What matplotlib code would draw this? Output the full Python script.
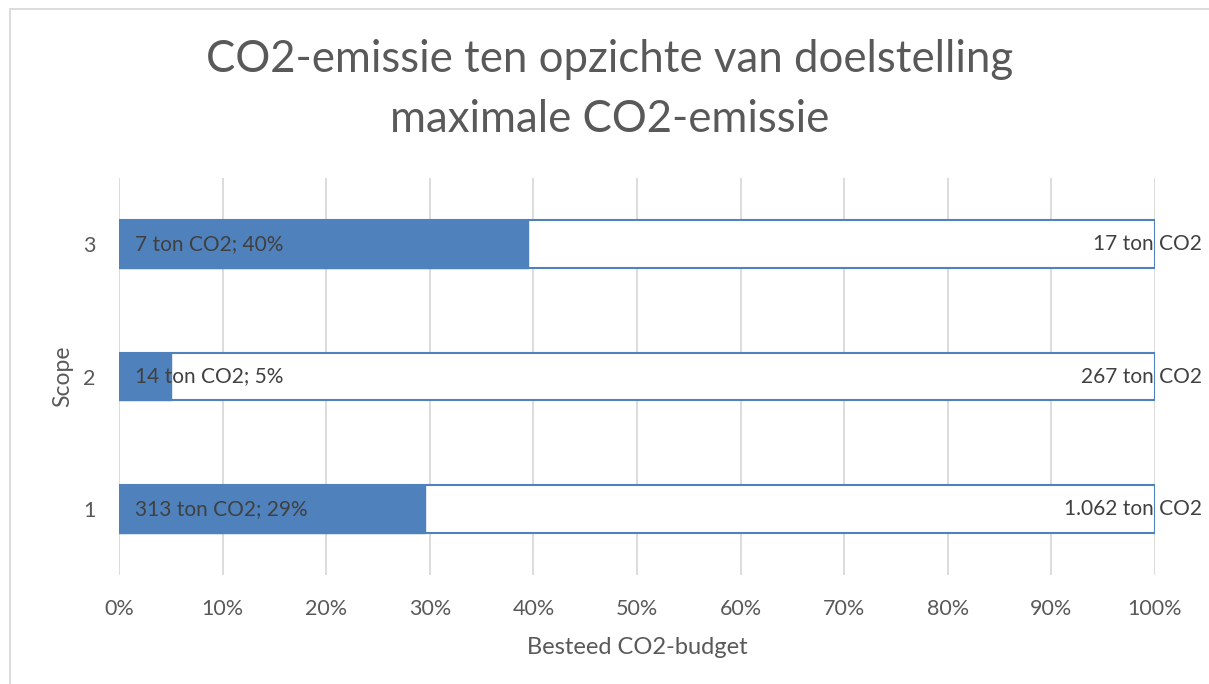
import matplotlib
matplotlib.use("Agg")
import matplotlib.pyplot as plt
from matplotlib.patches import Rectangle

# Data
scopes = ["1", "2", "3"]
spent_pct = [29.5, 5.0, 39.5]
spent_labels = ["313 ton CO2; 29%", "14 ton CO2; 5%", "7 ton CO2; 40%"]
budget_pct = [100, 100, 100]
budget_labels = ["1.062 ton CO2", "267 ton CO2", "17 ton CO2"]
xticks = [0, 10, 20, 30, 40, 50, 60, 70, 80, 90, 100]
xtick_labels = [f"{v}%" for v in xticks]

FONT = ["Lato", "DejaVu Sans"]
TXT = "#595959"
BLUE = "#4F81BD"
GRID = "#D9D9D9"

plt.rcParams["font.family"] = FONT

W, H = 1209, 684
fig = plt.figure(figsize=(W / 100, H / 100), dpi=100)
fig.patch.set_facecolor("white")

# chart-area border (light gray)
fig.patches.append(Rectangle((10 / W, -0.1), 1.2, 1 - 9 / H + 0.1,
                             transform=fig.transFigure, fill=False,
                             edgecolor=GRID, linewidth=1.3))

ax = fig.add_axes([119 / W, 1 - 575 / H, (1155 - 119) / W, (575 - 178) / H])

ypos = [1, 2, 3]
bh = 0.36
ax.barh(ypos, budget_pct, height=bh, color="white", edgecolor=BLUE, linewidth=1.5, zorder=2)
ax.barh(ypos, spent_pct, height=bh, color=BLUE, edgecolor=BLUE, linewidth=1.0, zorder=3)

for y, lab in zip(ypos, spent_labels):
    ax.annotate(lab, xy=(0, y), xytext=(16, 0), textcoords="offset pixels",
                ha="left", va="center", fontsize=15, color="#404040", zorder=5)
for y, v, lab in zip(ypos, budget_pct, budget_labels):
    ax.annotate(lab, xy=(v, y), xytext=(47, 0), textcoords="offset pixels",
                ha="right", va="center", fontsize=15, color="#404040", zorder=5,
                annotation_clip=False)

ax.set_xlim(0, 100)
ax.set_ylim(0.5, 3.5)
ax.set_xticks(xticks)
ax.set_xticklabels(xtick_labels)
ax.set_yticks(ypos)
ax.set_yticklabels(scopes)
ax.tick_params(axis="both", length=0, labelsize=15.5, labelcolor=TXT)
ax.tick_params(axis="x", pad=17)
ax.tick_params(axis="y", pad=17)
ax.grid(axis="x", color=GRID, linewidth=1.3, zorder=0)
ax.set_axisbelow(True)
for s in ax.spines.values():
    s.set_visible(False)

ax.set_xlabel("Besteed CO2-budget", fontsize=17, color=TXT, labelpad=13)
ax.set_ylabel("Scope", fontsize=16.5, color=TXT, labelpad=7)

fig.text(610 / W, 1 - 60 / H, "CO2-emissie ten opzichte van doelstelling",
         ha="center", va="center", fontsize=31.5, color=TXT)
fig.text(610 / W, 1 - 120 / H, "maximale CO2-emissie",
         ha="center", va="center", fontsize=31.5, color=TXT)

fig.savefig("out.png", dpi=100, facecolor="white")
